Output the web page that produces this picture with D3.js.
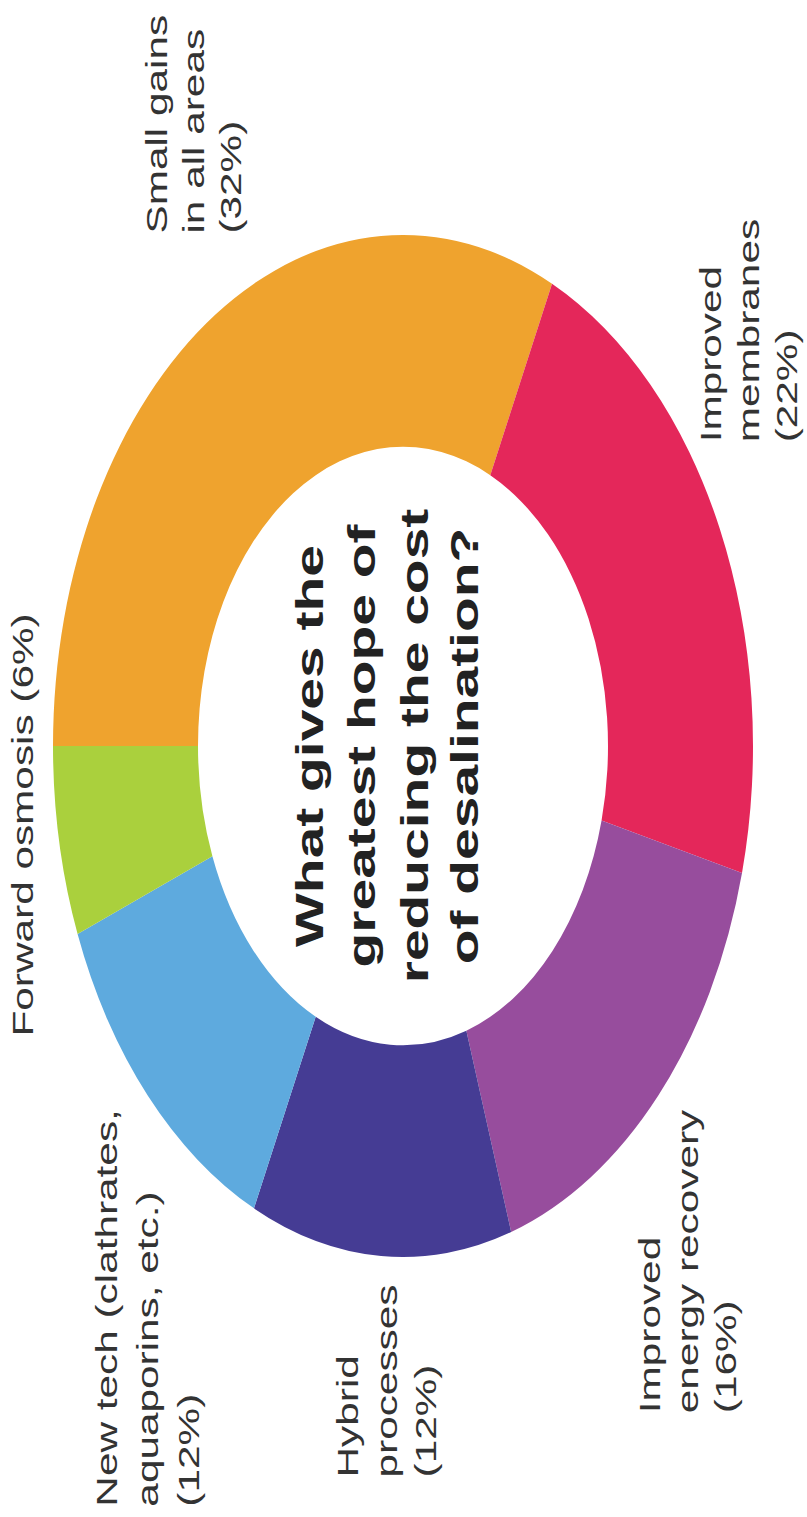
<!DOCTYPE html>
<html>
<head>
<meta charset="utf-8">
<script src="https://cdn.jsdelivr.net/npm/d3@7"></script>
<style>
    html, body { margin: 0; padding: 0; background: #fff; }
    svg { display: block; }
</style>
</head>
<body>
<svg id="canvas"></svg>
<script>
(() => {

    const WIDTH = 807;
    const HEIGHT = 1517;
    const CENTER_X = 403;
    const CENTER_Y = 746;
    const STRETCH_Y = 1.46;
    const OUTER_RADIUS = 350;
    const INNER_RADIUS = 205;
    const LABEL_FONT_SIZE = 29;
    const TITLE_FONT_SIZE = 39;

    // chart data
    const categories = [
        "Small gains in all areas",
        "Improved membranes",
        "Improved energy recovery",
        "Hybrid processes",
        "New tech (clathrates, aquaporins, etc.)",
        "Forward osmosis"
    ];
    const shares = [32, 22, 16, 12, 12, 6];
    const sliceColors = ["#efa32e", "#e4275a", "#974d9d", "#453c94", "#5eaade", "#aad03d"];
    const labelLines = [
        ["Small gains", "in all areas", "(32%)"],
        ["Improved", "membranes", "(22%)"],
        ["Improved", "energy recovery", "(16%)"],
        ["Hybrid", "processes", "(12%)"],
        ["New tech (clathrates,", "aquaporins, etc.)", "(12%)"],
        ["Forward osmosis (6%)"]
    ];
    const titleLines = ["What gives the", "greatest hope of", "reducing the cost", "of desalination?"];

    // layout (unrotated frame): label start x, first baseline y, line step
    const labelAnchors = [
        [351, -236, 37],
        [208, 318, 38],
        [-457, 257, 38],
        [-501, -45, 39],
        [-521, -286, 41],
        [-199, -370, 0]
    ];
    const titleBaselines = [-80, -28, 25, 75];

    let svg = d3.select("#canvas")
        .attr("width", WIDTH)
        .attr("height", HEIGHT);

    svg.append("rect")
        .attr("width", WIDTH)
        .attr("height", HEIGHT)
        .attr("fill", "#fff");

    // whole picture is turned a quarter to the left and stretched vertically
    let chart = svg.append("g")
        .attr("transform", `translate(${CENTER_X},${CENTER_Y}) scale(1,${STRETCH_Y}) rotate(-90)`);

    let color = d3.scaleOrdinal()
        .domain(categories)
        .range(sliceColors);

    let pie = d3.pie()
        .sort(null)
        .value(d => d.value);

    let arc = d3.arc()
        .innerRadius(INNER_RADIUS)
        .outerRadius(OUTER_RADIUS);

    let slices = pie(categories.map((c, i) => ({ name: c, value: shares[i] })));

    chart.selectAll("path.slice")
        .data(slices)
        .enter()
        .append("path")
        .attr("class", "slice")
        .attr("d", arc)
        .attr("fill", d => color(d.data.name));

    let labels = chart.selectAll("text.label")
        .data(categories)
        .enter()
        .append("text")
        .attr("class", "label")
        .attr("font-family", "'Liberation Sans', Arial, sans-serif")
        .attr("font-size", LABEL_FONT_SIZE)
        .attr("fill", "#333");

    labels.each(function(d, i) {
        let [x, y, step] = labelAnchors[i];
        d3.select(this).selectAll("tspan")
            .data(labelLines[i])
            .enter()
            .append("tspan")
            .attr("x", x)
            .attr("y", (line, j) => y + j * step)
            .text(line => line);
    });

    chart.append("text")
        .attr("class", "title")
        .attr("font-family", "'Liberation Sans', Arial, sans-serif")
        .attr("font-weight", "bold")
        .attr("font-size", TITLE_FONT_SIZE)
        .attr("fill", "#222")
        .attr("text-anchor", "middle")
        .selectAll("tspan")
        .data(titleLines)
        .enter()
        .append("tspan")
        .attr("x", 0)
        .attr("y", (d, i) => titleBaselines[i])
        .text(d => d);

})();
</script>
</body>
</html>
